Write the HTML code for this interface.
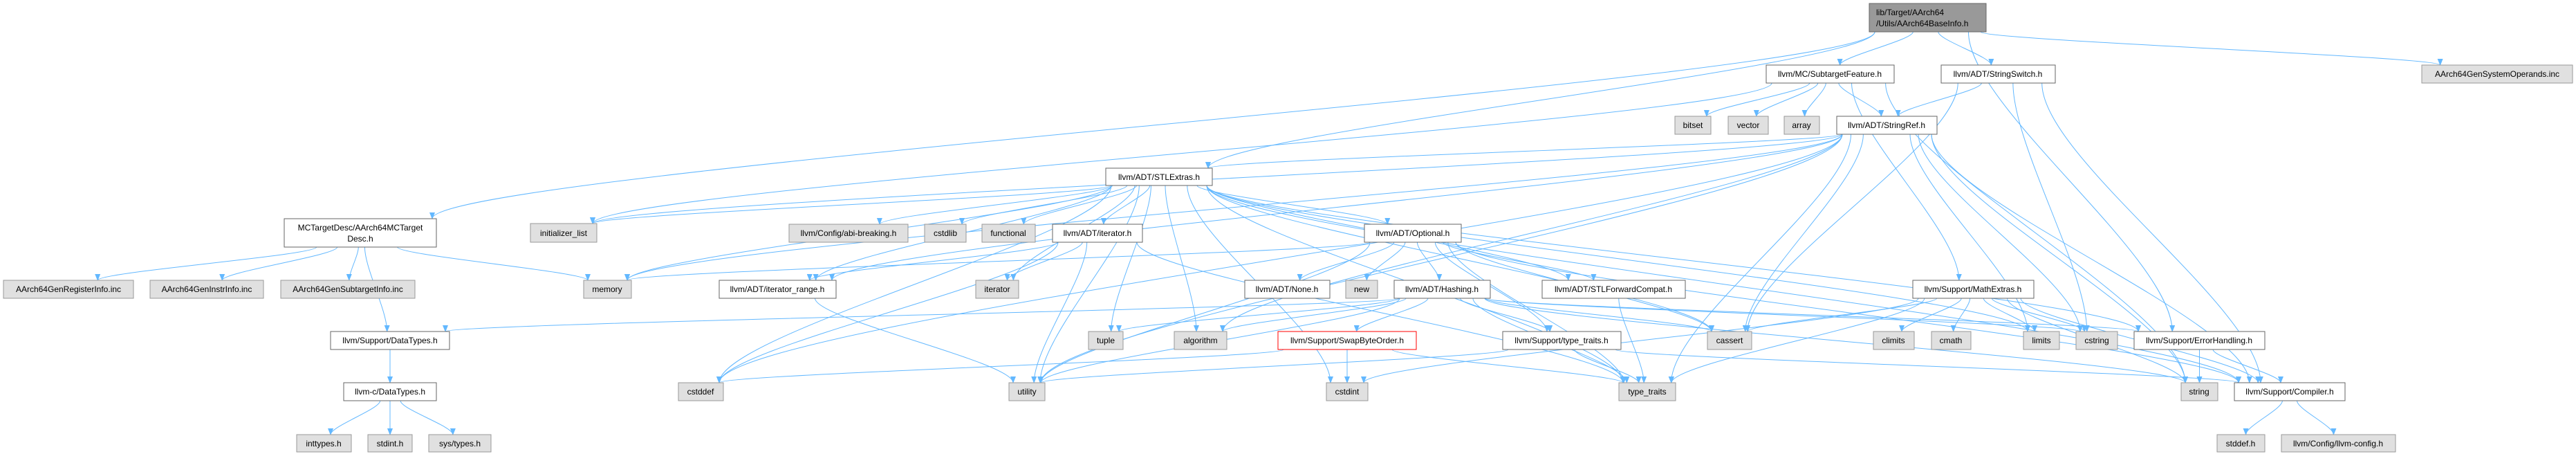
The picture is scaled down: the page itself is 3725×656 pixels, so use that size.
<!DOCTYPE html>
<html><head><meta charset="utf-8">
<style>
html,body{margin:0;padding:0;background:#fff;}
svg{display:block;}
text{font-family:"Liberation Sans",Arial,sans-serif;font-size:12px;fill:#000;}
</style></head>
<body>
<svg id="g" width="3725" height="656" viewBox="0 0 3725 656" xmlns="http://www.w3.org/2000/svg">
<defs>
<marker id="ah" markerWidth="10" markerHeight="8" refX="9" refY="4" orient="auto" markerUnits="userSpaceOnUse">
<path d="M0,0 L10,4 L0,8 z" fill="#63b8ff"/>
</marker>
</defs>
<g id="edges" fill="none" stroke="#63b8ff" stroke-width="1"></g>
<g id="nodes">
<rect x="2703" y="5" width="169" height="41" fill="#999" stroke="#666"/>
<text x="2713" y="22">lib/Target/AArch64</text><text x="2713" y="38">/Utils/AArch64BaseInfo.h</text>

<rect x="411" y="316" width="220" height="41" fill="#fff" stroke="#666"/>
<text x="521" y="333" text-anchor="middle">MCTargetDesc/AArch64MCTarget</text><text x="521" y="349" text-anchor="middle">Desc.h</text>

<g id="boxes"></g>
<text x="99" y="422" text-anchor="middle">AArch64GenRegisterInfo.inc</text>
<text x="299" y="422" text-anchor="middle">AArch64GenInstrInfo.inc</text>
<text x="503" y="422" text-anchor="middle">AArch64GenSubtargetInfo.inc</text>
<text x="878" y="422" text-anchor="middle">memory</text>
<text x="815" y="341" text-anchor="middle">initializer_list</text>
<text x="564" y="496" text-anchor="middle">llvm/Support/DataTypes.h</text>
<text x="564" y="570" text-anchor="middle">llvm-c/DataTypes.h</text>
<text x="468" y="645" text-anchor="middle">inttypes.h</text>
<text x="564" y="645" text-anchor="middle">stdint.h</text>
<text x="665" y="645" text-anchor="middle">sys/types.h</text>
<text x="1013" y="570" text-anchor="middle">cstddef</text>
<text x="1676" y="260" text-anchor="middle">llvm/ADT/STLExtras.h</text>
<text x="1227" y="341" text-anchor="middle">llvm/Config/abi-breaking.h</text>
<text x="1367" y="341" text-anchor="middle">cstdlib</text>
<text x="1458" y="341" text-anchor="middle">functional</text>
<text x="1587" y="341" text-anchor="middle">llvm/ADT/iterator.h</text>
<text x="2043" y="341" text-anchor="middle">llvm/ADT/Optional.h</text>
<text x="1124" y="422" text-anchor="middle">llvm/ADT/iterator_range.h</text>
<text x="1442" y="422" text-anchor="middle">iterator</text>
<text x="1861" y="422" text-anchor="middle">llvm/ADT/None.h</text>
<text x="1969" y="422" text-anchor="middle">new</text>
<text x="1599" y="496" text-anchor="middle">tuple</text>
<text x="1736" y="496" text-anchor="middle">algorithm</text>
<text x="1948" y="496" text-anchor="middle">llvm/Support/SwapByteOrder.h</text>
<text x="1485" y="570" text-anchor="middle">utility</text>
<text x="1948" y="570" text-anchor="middle">cstdint</text>
<text x="2646" y="111" text-anchor="middle">llvm/MC/SubtargetFeature.h</text>
<text x="2889" y="111" text-anchor="middle">llvm/ADT/StringSwitch.h</text>
<text x="2448" y="185" text-anchor="middle">bitset</text>
<text x="2528" y="185" text-anchor="middle">vector</text>
<text x="2605" y="185" text-anchor="middle">array</text>
<text x="2728" y="185" text-anchor="middle">llvm/ADT/StringRef.h</text>
<text x="2085" y="422" text-anchor="middle">llvm/ADT/Hashing.h</text>
<text x="2333" y="422" text-anchor="middle">llvm/ADT/STLForwardCompat.h</text>
<text x="2853" y="422" text-anchor="middle">llvm/Support/MathExtras.h</text>
<text x="2258" y="496" text-anchor="middle">llvm/Support/type_traits.h</text>
<text x="2501" y="496" text-anchor="middle">cassert</text>
<text x="2738" y="496" text-anchor="middle">climits</text>
<text x="2821" y="496" text-anchor="middle">cmath</text>
<text x="2952" y="496" text-anchor="middle">limits</text>
<text x="2382" y="570" text-anchor="middle">type_traits</text>
<text x="3611" y="111" text-anchor="middle">AArch64GenSystemOperands.inc</text>
<text x="3032" y="496" text-anchor="middle">cstring</text>
<text x="3180" y="496" text-anchor="middle">llvm/Support/ErrorHandling.h</text>
<text x="3180" y="570" text-anchor="middle">string</text>
<text x="3311" y="570" text-anchor="middle">llvm/Support/Compiler.h</text>
<text x="3240" y="645" text-anchor="middle">stddef.h</text>
<text x="3381" y="645" text-anchor="middle">llvm/Config/llvm-config.h</text>
</g>
</svg>
<script>
var N={
root:[2703,5,2872,46,'d'],
mctd:[411,316,631,357,'w'],
reg:[5,405,193,431,'g'],instr:[217,405,381,431,'g'],subinfo:[406,405,600,431,'g'],
memory:[844,405,913,431,'g'],initl:[767,323,863,350,'g'],
dtypes:[478,479,650,505,'w'],cdtypes:[497,553,631,579,'w'],
inttypes:[429,628,508,653,'g'],stdint:[532,628,596,653,'g'],systypes:[620,628,710,653,'g'],
cstddef:[981,553,1046,579,'g'],
stl:[1599,243,1753,268,'w'],abi:[1141,324,1313,350,'g'],cstdlib:[1337,324,1397,350,'g'],
functional:[1420,324,1497,350,'g'],iterh:[1522,324,1652,350,'w'],opt:[1973,324,2113,350,'w'],
itrange:[1040,405,1209,431,'w'],iterator:[1411,405,1473,431,'g'],none:[1800,405,1923,431,'w'],
new_:[1946,405,1992,431,'g'],tuple:[1574,479,1624,505,'g'],algorithm:[1698,479,1774,505,'g'],
swap:[1848,479,2048,505,'r'],utility:[1459,553,1511,579,'g'],cstdint:[1918,553,1978,579,'g'],
subf:[2554,94,2739,120,'w'],sswitch:[2807,94,2972,120,'w'],
bitset:[2422,168,2474,194,'g'],vector:[2499,168,2557,194,'g'],array:[2580,168,2631,194,'g'],
sref:[2656,168,2801,194,'w'],hashing:[2016,405,2155,431,'w'],fwd:[2230,405,2437,431,'w'],
math:[2766,405,2941,431,'w'],tth:[2173,479,2344,505,'w'],cassert:[2469,479,2533,505,'g'],
climits:[2709,479,2768,505,'g'],cmath:[2793,479,2850,505,'g'],limits:[2926,479,2978,505,'g'],
tt:[2341,553,2423,579,'g'],sysops:[3502,94,3720,120,'g'],cstring:[3002,479,3062,505,'g'],
err:[3086,479,3275,505,'w'],string:[3154,553,3207,579,'g'],comp:[3231,553,3391,579,'w'],
stddefh:[3206,628,3275,653,'g'],llvmcfg:[3299,628,3464,653,'g']
};
var E={
root:['mctd','stl','subf','sswitch','sysops','err'],
mctd:['reg','instr','subinfo','memory','dtypes'],
dtypes:['cdtypes'],cdtypes:['inttypes','stdint','systypes'],
subf:['bitset','vector','array','sref','math','string','initl'],
sswitch:['sref','cassert','cstring','comp'],
sref:['stl','itrange','cstddef','initl','utility','cassert','tt','cstring','limits','string','comp','algorithm','memory'],
stl:['initl','memory','cstddef','itrange','abi','cstdlib','functional','iterh','iterator','utility','tuple','algorithm','cstdint','opt','fwd','cassert','limits','tt','err','comp'],
iterh:['itrange','cstddef','iterator','utility','tt'],
itrange:['utility'],
opt:['none','new_','hashing','fwd','tth','cassert','memory','utility','comp','tt'],
hashing:['dtypes','swap','err','tth','tuple','algorithm','utility','cassert','cstring','string','tt'],
swap:['cstddef','cstdint','tt'],
tth:['utility','tt','comp'],
fwd:['tt'],
math:['cassert','climits','cmath','limits','cstring','comp','cstdint','tt','string'],
err:['string','comp'],
comp:['stddefh','llvmcfg']
};
var ns='http://www.w3.org/2000/svg';
var bx=document.getElementById('boxes'),eg=document.getElementById('edges');
for(var k in N){var n=N[k];if(k=='root'||k=='mctd')continue;
var r=document.createElementNS(ns,'rect');r.setAttribute('x',n[0]);r.setAttribute('y',n[1]);
r.setAttribute('width',n[2]-n[0]);r.setAttribute('height',n[3]-n[1]);
r.setAttribute('fill',n[4]=='g'?'#e0e0e0':'#fff');r.setAttribute('stroke',n[4]=='g'?'#999':(n[4]=='r'?'#f00':'#666'));
bx.appendChild(r);}
for(var s in E){var a=N[s];E[s].forEach(function(t){var b=N[t];
var acx=(a[0]+a[2])/2,bcx=(b[0]+b[2])/2;
var sx=acx+(bcx-acx)*0.15;sx=Math.max(a[0]+8,Math.min(a[2]-8,sx));
var sy=a[3],ty=b[1];
var tx=Math.max(b[0]+6,Math.min(b[2]-6,bcx+(acx-bcx)*0.1));
var dy=ty-sy;
var p=document.createElementNS(ns,'path');
p.setAttribute('d','M'+sx+','+sy+' C'+sx+','+(sy+dy*0.25)+' '+tx+','+(ty-dy*0.25)+' '+tx+','+ty);
p.setAttribute('marker-end','url(#ah)');eg.appendChild(p);});}
</script>
</body></html>
